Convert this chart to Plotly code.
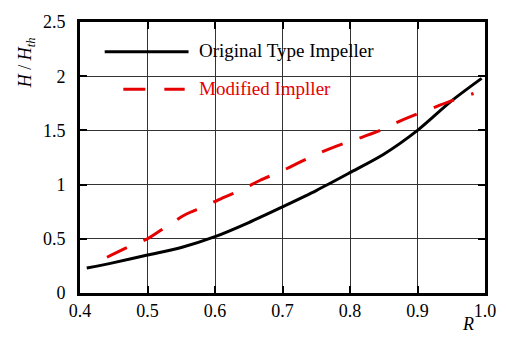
import plotly.graph_objects as go

# Data
orig_R = [0.41, 0.45, 0.50, 0.55, 0.60, 0.65, 0.70, 0.75, 0.80, 0.85, 0.90, 0.95, 0.995]
orig_H = [0.23, 0.28, 0.35, 0.42, 0.52, 0.65, 0.795, 0.945, 1.11, 1.28, 1.50, 1.77, 1.98]

mod_R = [0.44, 0.47, 0.50, 0.525, 0.555, 0.583, 0.61, 0.64, 0.667, 0.697,
         0.725, 0.754, 0.782, 0.81, 0.841, 0.868, 0.897, 0.928, 0.951, 0.983]
mod_H = [0.33, 0.42, 0.50, 0.60, 0.72, 0.795, 0.874, 0.954, 1.04, 1.12,
         1.205, 1.29, 1.36, 1.42, 1.49, 1.57, 1.645, 1.72, 1.775, 1.84]

series_names = ["Original Type Impeller", "Modified Impller"]
x_ticks = [0.4, 0.5, 0.6, 0.7, 0.8, 0.9, 1.0]
y_ticks = [0, 0.5, 1, 1.5, 2, 2.5]

RED = "#e60000"
FONT = "Liberation Serif"

fig = go.Figure()
fig.add_trace(go.Scatter(x=orig_R, y=orig_H, mode="lines", name=series_names[0],
                         line=dict(color="black", width=3, shape="spline", smoothing=0.8),
                         showlegend=False))
fig.add_trace(go.Scatter(x=mod_R, y=mod_H, mode="lines", name=series_names[1],
                         line=dict(color=RED, width=3, dash="22px,18px", shape="spline", smoothing=0.8),
                         showlegend=False))

axis_common = dict(
    showline=True, linecolor="black", linewidth=3, mirror="ticks",
    ticks="inside", ticklen=7, tickwidth=1.5, tickcolor="black",
    showgrid=True, gridcolor="#333333", gridwidth=1, zeroline=False,
    tickfont=dict(family=FONT, size=18, color="black"),
)

fig.update_xaxes(range=[0.4, 1.0], tickvals=x_ticks, tickformat=".1f",
                 ticklabelstandoff=-1, **axis_common)
fig.update_yaxes(range=[0, 2.5], tickvals=y_ticks,
                 ticktext=[f"{v:g}" for v in y_ticks],
                 ticklabelstandoff=8, **axis_common)

# legend panel (white box hiding gridlines) and manual legend entries
fig.add_shape(type="rect", xref="paper", yref="paper", x0=0.0, x1=0.766, y0=0.664, y1=1.0,
              fillcolor="white", line=dict(width=0), layer="between")
fig.add_shape(type="line", xref="paper", yref="paper", x0=0.061, x1=0.268, y0=0.890, y1=0.890,
              line=dict(color="black", width=3))
fig.add_shape(type="line", xref="paper", yref="paper", x0=0.107, x1=0.2585, y0=0.7516, y1=0.7516,
              line=dict(color=RED, width=3, dash="22px,19px"))
fig.add_annotation(xref="paper", yref="paper", x=0.290, y=0.893, xanchor="left", yanchor="middle",
                   text=series_names[0], showarrow=False,
                   font=dict(family=FONT, size=19, color="black"))
fig.add_annotation(xref="paper", yref="paper", x=0.290, y=0.756, xanchor="left", yanchor="middle",
                   text=series_names[1], showarrow=False,
                   font=dict(family=FONT, size=19, color=RED))

# axis titles
fig.add_annotation(xref="paper", yref="paper", x=-0.1317, y=0.850, xanchor="center", yanchor="middle",
                   text="<i>H</i> / <i>H</i><sub><i>th</i></sub>", textangle=-90, showarrow=False,
                   font=dict(family=FONT, size=18, color="black"))
fig.add_annotation(xref="paper", yref="paper", x=0.958, y=-0.1162, xanchor="center", yanchor="middle",
                   text="<i>R</i>", showarrow=False,
                   font=dict(family=FONT, size=18, color="black"))

fig.update_layout(
    width=508, height=337,
    margin=dict(l=80, r=18, t=19, b=44),
    paper_bgcolor="white", plot_bgcolor="white",
    font=dict(family=FONT, color="black"),
)

fig.write_html("out.html")
